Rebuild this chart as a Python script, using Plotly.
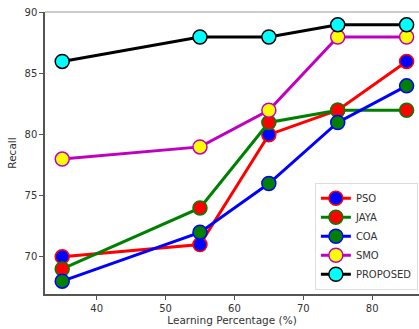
import plotly.graph_objects as go

learning_pct = [35, 55, 65, 75, 85]
pso = [70, 71, 80, 82, 86]
jaya = [69, 74, 81, 82, 82]
coa = [68, 72, 76, 81, 84]
smo = [78, 79, 82, 88, 88]
proposed = [86, 88, 88, 89, 89]

series = [
    ("PSO", pso, "red", "blue"),
    ("JAYA", jaya, "green", "red"),
    ("COA", coa, "blue", "green"),
    ("SMO", smo, "#c000c0", "yellow"),
    ("PROPOSED", proposed, "black", "cyan"),
]

fig = go.Figure()
for name, vals, line_c, mark_c in series:
    fig.add_trace(go.Scatter(
        x=learning_pct, y=vals, name=name, mode="lines+markers",
        line=dict(color=line_c, width=3),
        marker=dict(size=14, color=mark_c, line=dict(color=line_c, width=1.5)),
    ))

font = dict(family="DejaVu Sans", size=10, color="#333333")
fig.update_layout(
    width=419, height=329,
    margin=dict(l=45, r=0, t=12, b=35),
    plot_bgcolor="white", paper_bgcolor="white",
    font=font,
    showlegend=True,
    legend=dict(x=0.997, y=0.015, xanchor="right", yanchor="bottom",
                bordercolor="#dddddd", borderwidth=1, bgcolor="white",
                font=dict(family="DejaVu Sans", size=10, color="#333333"),
                itemwidth=30, tracegroupgap=0),
    xaxis=dict(range=[32.5, 86.8], tickvals=[40, 50, 60, 70, 80],
               showgrid=False, zeroline=False, showline=True,
               linecolor="#555555", linewidth=1.5, ticks="outside",
               ticklen=4, tickcolor="#555555",
               title=dict(text="Learning Percentage (%)", standoff=4,
                          font=dict(family="DejaVu Sans", size=10.5, color="#333333"))),
    yaxis=dict(range=[66.95, 90.05], tickvals=[70, 75, 80, 85, 90],
               showgrid=False, zeroline=False, showline=True,
               linecolor="#555555", linewidth=1.5, ticks="outside",
               ticklen=4, tickcolor="#555555",
               title=dict(text="Recall", standoff=6,
                          font=dict(family="DejaVu Sans", size=10.5, color="#333333"))),
)
# light top frame line
fig.add_shape(type="line", xref="paper", yref="paper", x0=0, x1=1, y0=1, y1=1,
              line=dict(color="#bbbbbb", width=1.5))

fig.write_html("out.html")
